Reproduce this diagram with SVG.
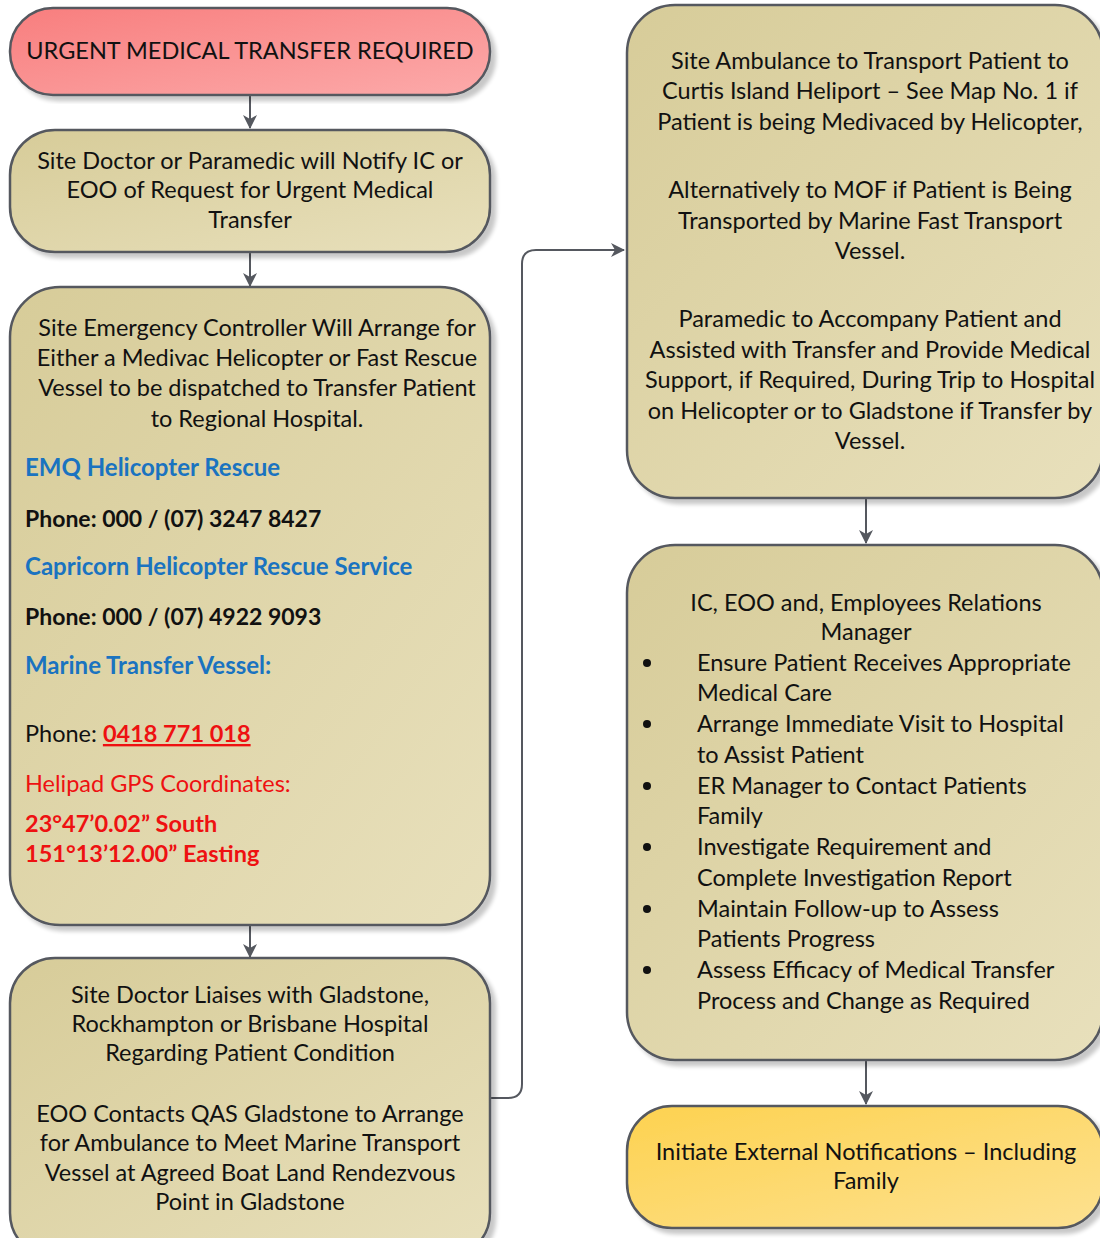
<svg xmlns="http://www.w3.org/2000/svg" width="1100" height="1238" viewBox="0 0 1100 1238">
  <defs>
    <linearGradient id="tan" x1="0" y1="0" x2="1" y2="1">
      <stop offset="0" stop-color="#d7cc99"/>
      <stop offset="1" stop-color="#e8e0bc"/>
    </linearGradient>
    <linearGradient id="red" x1="0" y1="0" x2="1" y2="1">
      <stop offset="0" stop-color="#f87e7e"/>
      <stop offset="1" stop-color="#fcaaaa"/>
    </linearGradient>
    <linearGradient id="gold" x1="0" y1="0" x2="1" y2="1">
      <stop offset="0" stop-color="#fdd250"/>
      <stop offset="1" stop-color="#fde190"/>
    </linearGradient>
    <filter id="shadow" x="-5%" y="-5%" width="115%" height="115%">
      <feGaussianBlur in="SourceAlpha" stdDeviation="2"/>
      <feOffset dx="5" dy="5" result="b"/>
      <feComponentTransfer><feFuncA type="linear" slope="0.22"/></feComponentTransfer>
      <feMerge><feMergeNode/><feMergeNode in="SourceGraphic"/></feMerge>
    </filter>
    <marker id="arrow" viewBox="0 0 14 14" refX="13" refY="7" markerWidth="14" markerHeight="14" markerUnits="userSpaceOnUse" orient="auto">
      <path d="M0,0 L14,7 L0,14 L4,7 z" fill="#55585f"/>
    </marker>
  </defs>
  <style>
    .box { stroke: #55585f; stroke-width: 2.5; filter: url(#shadow); }
    .t { font-family: Lato, "Liberation Sans", sans-serif; font-size: 23.5px; fill: #111; }
    .c { text-anchor: middle; }
    .blue { fill: #1a73c0; font-weight: bold; font-size: 24px; }
    .bold { font-weight: bold; }
    .ph { font-size: 23px; }
    .redt { fill: #ee1111; }
    .coord { font-size: 23.5px; }
    .conn { fill: none; stroke: #55585f; stroke-width: 2; marker-end: url(#arrow); }
  </style>

  <g id="connectors">
    <path class="conn" d="M250,95 V128"/>
    <path class="conn" d="M250,252 V286"/>
    <path class="conn" d="M250,925 V957"/>
    <path class="conn" d="M490,1098 H508 Q522,1098 522,1084 V264 Q522,250 536,250 H624"/>
    <path class="conn" d="M866,498 V543"/>
    <path class="conn" d="M866,1060 V1104"/>
  </g>

  <g id="node-urgent">
    <rect class="box" x="10" y="8" width="480" height="87" rx="43" fill="url(#red)"/>
    <text class="t c" x="250" y="59">URGENT MEDICAL TRANSFER REQUIRED</text>
  </g>

  <g id="node-notify">
    <rect class="box" x="10" y="130" width="480" height="122" rx="45" fill="url(#tan)"/>
    <text class="t c" x="250" y="169">Site Doctor or Paramedic will Notify IC or</text>
    <text class="t c" x="250" y="198">EOO of Request for Urgent Medical</text>
    <text class="t c" x="250" y="228">Transfer</text>
  </g>

  <g id="node-controller">
    <rect class="box" x="10" y="287" width="480" height="638" rx="50" fill="url(#tan)"/>
    <text class="t c" x="257" y="336">Site Emergency Controller Will Arrange for</text>
    <text class="t c" x="257" y="366">Either a Medivac Helicopter or Fast Rescue</text>
    <text class="t c" x="257" y="396">Vessel to be dispatched to Transfer Patient</text>
    <text class="t c" x="257" y="427">to Regional Hospital.</text>
    <text class="t blue" x="25" y="476">EMQ Helicopter Rescue</text>
    <text class="t bold ph" x="25" y="527">Phone: 000 / (07) 3247 8427</text>
    <text class="t blue" x="25" y="575">Capricorn Helicopter Rescue Service</text>
    <text class="t bold ph" x="25" y="625">Phone: 000 / (07) 4922 9093</text>
    <text class="t blue" x="25" y="674">Marine Transfer Vessel:</text>
    <text class="t" x="25" y="742">Phone: <tspan class="redt bold" text-decoration="underline">0418 771 018</tspan></text>
    <text class="t redt" x="25" y="792">Helipad GPS Coordinates:</text>
    <text class="t redt bold coord" x="25" y="832">23°47’0.02” South</text>
    <text class="t redt bold coord" x="25" y="862">151°13’12.00” Easting</text>
  </g>

  <g id="node-liaise">
    <rect class="box" x="10" y="958" width="480" height="300" rx="45" fill="url(#tan)"/>
    <text class="t c" x="250" y="1003">Site Doctor Liaises with Gladstone,</text>
    <text class="t c" x="250" y="1032">Rockhampton or Brisbane Hospital</text>
    <text class="t c" x="250" y="1061">Regarding Patient Condition</text>
    <text class="t c" x="250" y="1122">EOO Contacts QAS Gladstone to Arrange</text>
    <text class="t c" x="250" y="1151">for Ambulance to Meet Marine Transport</text>
    <text class="t c" x="250" y="1181">Vessel at Agreed Boat Land Rendezvous</text>
    <text class="t c" x="250" y="1210">Point in Gladstone</text>
  </g>

  <g id="node-ambulance">
    <rect class="box" x="627" y="5" width="476" height="493" rx="48" fill="url(#tan)"/>
    <text class="t c" x="870" y="69">Site Ambulance to Transport Patient to</text>
    <text class="t c" x="870" y="99">Curtis Island Heliport – See Map No. 1 if</text>
    <text class="t c" x="870" y="130">Patient is being Medivaced by Helicopter,</text>
    <text class="t c" x="870" y="198">Alternatively to MOF if Patient is Being</text>
    <text class="t c" x="870" y="229">Transported by Marine Fast Transport</text>
    <text class="t c" x="870" y="259">Vessel.</text>
    <text class="t c" x="870" y="327">Paramedic to Accompany Patient and</text>
    <text class="t c" x="870" y="358">Assisted with Transfer and Provide Medical</text>
    <text class="t c" x="870" y="388">Support, if Required, During Trip to Hospital</text>
    <text class="t c" x="870" y="419">on Helicopter or to Gladstone if Transfer by</text>
    <text class="t c" x="870" y="449">Vessel.</text>
  </g>

  <g id="node-managers">
    <rect class="box" x="627" y="545" width="476" height="515" rx="48" fill="url(#tan)"/>
    <text class="t c" x="866" y="611">IC, EOO and, Employees Relations</text>
    <text class="t c" x="866" y="640">Manager</text>
    <g fill="#111">
      <circle cx="647" cy="663" r="4"/>
      <circle cx="647" cy="724" r="4"/>
      <circle cx="647" cy="786" r="4"/>
      <circle cx="647" cy="847" r="4"/>
      <circle cx="647" cy="909" r="4"/>
      <circle cx="647" cy="970" r="4"/>
    </g>
    <text class="t" x="697" y="671">Ensure Patient Receives Appropriate</text>
    <text class="t" x="697" y="701">Medical Care</text>
    <text class="t" x="697" y="732">Arrange Immediate Visit to Hospital</text>
    <text class="t" x="697" y="763">to Assist Patient</text>
    <text class="t" x="697" y="794">ER Manager to Contact Patients</text>
    <text class="t" x="697" y="824">Family</text>
    <text class="t" x="697" y="855">Investigate Requirement and</text>
    <text class="t" x="697" y="886">Complete Investigation Report</text>
    <text class="t" x="697" y="917">Maintain Follow-up to Assess</text>
    <text class="t" x="697" y="947">Patients Progress</text>
    <text class="t" x="697" y="978">Assess Efficacy of Medical Transfer</text>
    <text class="t" x="697" y="1009">Process and Change as Required</text>
  </g>

  <g id="node-notifications">
    <rect class="box" x="627" y="1106" width="476" height="122" rx="45" fill="url(#gold)"/>
    <text class="t c" x="866" y="1160">Initiate External Notifications – Including</text>
    <text class="t c" x="866" y="1189">Family</text>
  </g>
</svg>
